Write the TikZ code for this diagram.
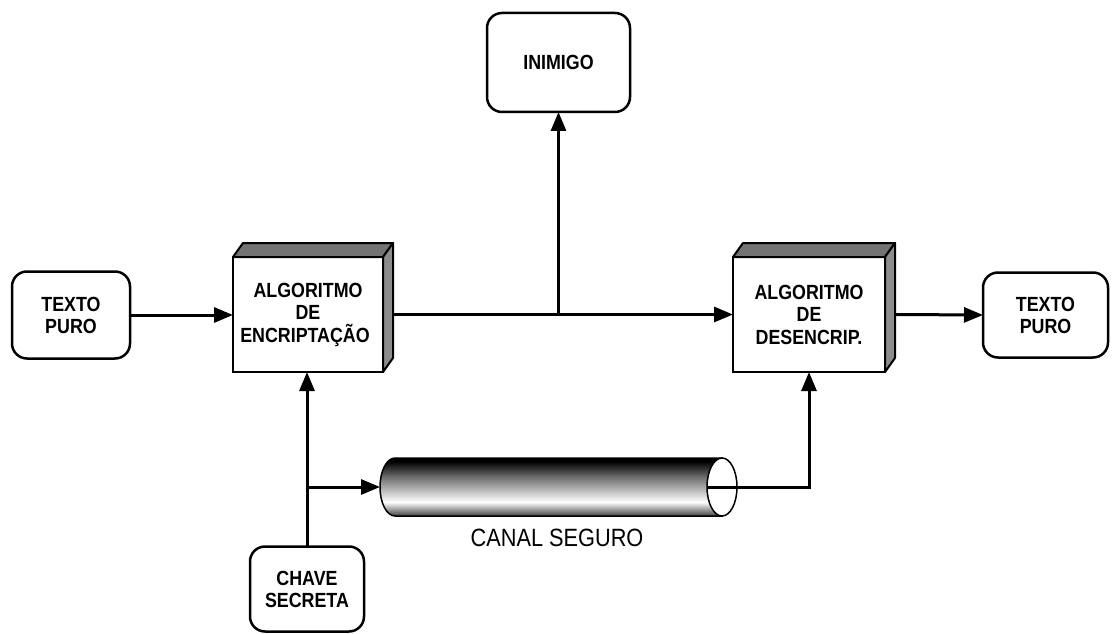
\documentclass[tikz,border=0pt]{standalone}
\usepackage{fontspec}
\usepackage{graphicx}
\setmainfont{Liberation Sans}
\newfontfamily\boxfont[FakeStretch=0.87]{Liberation Sans}
\newfontfamily\labelfont[FakeStretch=0.87]{Liberation Sans}
\usetikzlibrary{arrows.meta,calc}
\pgfdeclareverticalshading{tube}{100bp}{color(0bp)=(black!75); color(25bp)=(black!75); color(37bp)=(white); color(58bp)=(black!55); color(72bp)=(black); color(100bp)=(black)}
\tikzset{
  rbox/.style={draw, line width=2.5pt, rounded corners=15pt, fill=white, align=center,
    font=\boxfont\bfseries\fontsize{20.5}{22}\selectfont, inner sep=0pt, outer sep=0pt},
  fbox/.style={draw, line width=2.5pt, fill=white, align=center,
    font=\boxfont\bfseries\fontsize{20.5}{22.5}\selectfont, inner sep=0pt, outer sep=0pt},
  face/.style={draw, line width=2pt, line join=round},
  conn/.style={line width=3pt, -{Triangle[length=19pt,width=15pt]}},
}
\begin{document}
\begin{tikzpicture}[x=1pt,y=1pt]
\useasboundingbox (0,0) rectangle (1113,633);
% nodes
\node[rbox, minimum width=118pt, minimum height=87pt] (tp1) at (71,318) {TEXTO\\PURO};
\node[rbox, minimum width=125pt, minimum height=85pt] (tp2) at (1045.5,318) {TEXTO\\PURO};
\node[rbox, minimum width=143pt, minimum height=99pt] (ini) at (558.5,570.5) {INIMIGO};
\node[rbox, minimum width=114pt, minimum height=85pt] (ch) at (307,44) {CHAVE\\SECRETA};
\node[fbox, minimum width=150pt, minimum height=115pt] (enc) at (308,318.5) {ALGORITMO\\DE\\ENCRIPTAÇÃO\hspace*{6pt}};
\node[fbox, minimum width=152pt, minimum height=115pt] (dec) at (809,318.5) {ALGORITMO\\DE\\DESENCRIP.};
% 3D faces
\foreach \b in {enc,dec}{
  \draw[face, fill=black!55] (\b.north west) -- ++(10,14) -- ($(\b.north east)+(10,14)$) -- (\b.north east) -- cycle;
  \draw[face, fill=black!45] (\b.north east) -- ++(10,14) -- ($(\b.south east)+(10,14)$) -- (\b.south east) -- cycle;
}
% cylinder
\node[minimum width=342pt, minimum height=58pt, inner sep=0pt, outer sep=0pt] (canal) at (551,146) {};
\path[shade, shading=tube, draw, line width=1.5pt] (canal.north east) -- ($(canal.north west)+(15,0)$)
  arc[start angle=90, end angle=270, x radius=15pt, y radius=29pt] -- (canal.south east) -- cycle;
\draw[line width=1.5pt, fill=white] (canal.east) ellipse [x radius=15pt, y radius=29pt];
\node[font=\labelfont\fontsize{25}{25}\selectfont] (lbl) at (557,95) {CANAL SEGURO};
% connectors
\draw[conn] (tp1.east) -- (tp1.east -| enc.west);
\draw[conn] ($(enc.east)+(10,0)$) -- (dec.west);
\draw[conn] (ini.south |- enc.east) -- (ini.south);
\draw[conn] ($(dec.east)+(10,0)$) -- (tp2.west);
\draw[conn] (ch.north) -- (ch.north |- enc.south);
\draw[conn] (ch.north |- canal.west) -- (canal.west);
\draw[conn] ($(canal.east)+(-15,0)$) -| (dec.south);
\end{tikzpicture}
\end{document}
